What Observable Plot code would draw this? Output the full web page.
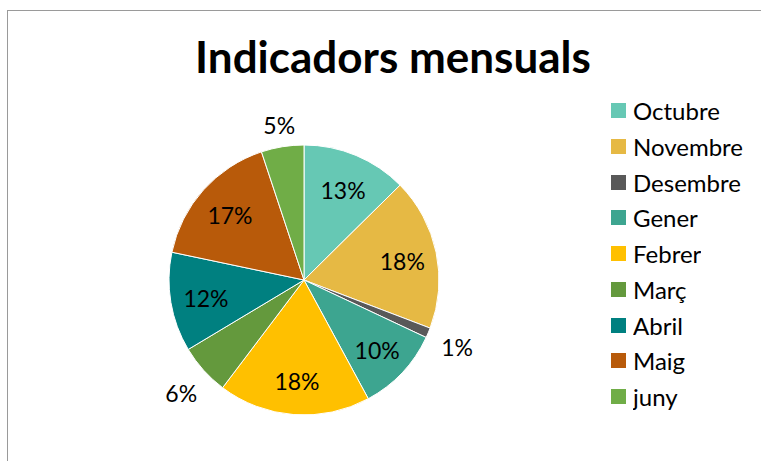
<!DOCTYPE html>
<html>
<head>
<meta charset="utf-8">
<script src="https://cdn.jsdelivr.net/npm/d3@7"></script>
<script src="https://cdn.jsdelivr.net/npm/@observablehq/plot@0.6"></script>
<style>
  html, body { margin: 0; padding: 0; background: #fff; }
  #wrap { position: relative; width: 761px; height: 461px; overflow: hidden; font-family: Lato, "Open Sans", sans-serif; }
  #frame { position: absolute; left: 7px; top: 10px; width: 800px; height: 500px; border-left: 1px solid #9a9a9a; border-top: 1px solid #9a9a9a; }
  #title { position: absolute; left: 0; width: 786px; top: 34px; text-align: center; font-weight: 700; font-size: 44px; line-height: 44px; color: #000; white-space: nowrap; }
  #chart { position: absolute; left: 0; top: 0; }
  #legend { position: absolute; left: 611px; top: 92.8px; }
  .leg-swatches { font-family: Lato, sans-serif !important; font-size: 24px !important; color: #000; margin: 0 !important; }
  .leg-swatch { height: 35.75px; padding-bottom: 0 !important; }
  .leg-swatch > svg { margin-right: 7px !important; }
</style>
</head>
<body>
<div id="wrap">
  <div id="frame"></div>
  <div id="title">Indicadors mensuals</div>
  <div id="chart"></div>
  <div id="legend"></div>
</div>
<script>
const months = ["Octubre", "Novembre", "Desembre", "Gener", "Febrer", "Març", "Abril", "Maig", "juny"];
const shares = [12.6, 18.2, 1.2, 10.1, 18.2, 6.1, 11.9, 16.6, 5.1];
const colors = ["#66C8B4", "#E6B944", "#595959", "#3DA590", "#FFC000", "#64993D", "#008080", "#B85A0A", "#70AD47"];

const data = months.map((m, i) => ({month: m, value: shares[i]}));
const total = d3.sum(shares);
const arcs = d3.pie().sort(null).value(d => d.value)(data);

// pixel layout of the pie
const cx = 304, cy = 280, R = 135;

// label positions in data units (unit circle)
const labels = arcs.map(a => {
  const ang = (a.startAngle + a.endAngle) / 2;
  const sx = Math.sin(ang), sy = Math.cos(ang);
  const pct = Math.round(a.data.value / total * 100);
  let r;
  if (a.data.value / total < 0.07) {
    const w = 36, h = 22;
    const ext = Math.abs(sx) * w / 2 + Math.abs(sy) * h / 2;
    r = 1 + (10 + ext) / R;
  } else {
    r = 0.74;
  }
  return {x: sx * r, y: sy * r, text: pct + "%"};
});

const color = {domain: months, range: colors};

function pieMark(index, scales) {
  const x0 = scales.x(0), y0 = scales.y(0);
  const rad = scales.x(1) - scales.x(0);
  const arc = d3.arc().innerRadius(0).outerRadius(rad);
  const g = d3.create("svg:g").attr("transform", `translate(${x0},${y0})`);
  g.selectAll("path").data(arcs).join("path")
    .attr("d", arc)
    .attr("fill", a => scales.color(a.data.month))
    .attr("stroke", "#fff")
    .attr("stroke-width", 1)
    .attr("stroke-linejoin", "round");
  return g.node();
}

const plot = Plot.plot({
  width: 761,
  height: 461,
  margin: 0,
  x: {domain: [-1, 1], range: [cx - R, cx + R], axis: null},
  y: {domain: [-1, 1], range: [cy + R, cy - R], axis: null},
  color,
  style: {background: "transparent", overflow: "visible"},
  marks: [
    pieMark,
    Plot.text(labels, {x: "x", y: "y", text: "text", fontSize: 23, dy: 3, fill: "#000", fontFamily: "Lato, sans-serif"})
  ]
});
document.getElementById("chart").appendChild(plot);

const leg = Plot.legend({color, legend: "swatches", columns: 1, swatchSize: 15, className: "leg"});
document.getElementById("legend").appendChild(leg);
</script>
</body>
</html>
